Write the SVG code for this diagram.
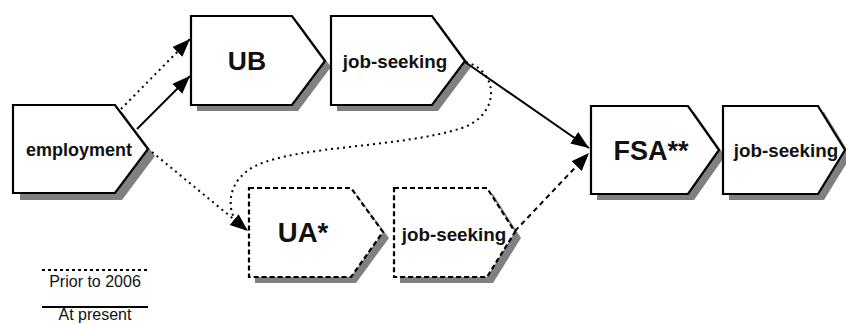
<svg xmlns="http://www.w3.org/2000/svg" width="846" height="324" viewBox="0 0 846 324">
<defs>
<marker id="ah" markerUnits="userSpaceOnUse" markerWidth="20" markerHeight="16" refX="18" refY="7" orient="auto"><path d="M0,0 L18,7 L0,14 z" fill="#000" stroke="none"/></marker>
</defs>
<style>
.shadow{fill:#808080;stroke:none}
.box{fill:#fff;stroke:#000;stroke-width:2.2;stroke-linejoin:miter}
.dbox{fill:#fff;stroke:#000;stroke-width:2.2;stroke-dasharray:5 3}
.t{font-family:"Liberation Sans",Arial,sans-serif;font-weight:bold;fill:#111;text-anchor:middle}
.s{font-size:18.8px}
.leg{font-family:"Liberation Sans",Arial,sans-serif;font-size:16px;fill:#111;text-anchor:middle}
.solid{fill:none;stroke:#000;stroke-width:2}
.dot{fill:none;stroke:#000;stroke-width:2;stroke-dasharray:2 4}
.dash{fill:none;stroke:#000;stroke-width:2;stroke-dasharray:5 4}
</style>
<g id="employment">
<polygon class="shadow" points="20,112 122,112 155,156 122,200 20,200"/>
<polygon class="box" points="13,105 115,105 148,149 115,193 13,193"/>
<text class="t" style="font-size:18px" x="79" y="156">employment</text>
</g>
<g id="ub">
<polygon class="shadow" points="197,22 298,22 331,67 298,111 197,111"/>
<polygon class="box" points="191,16 292,16 325,61 292,105 191,105"/>
<text class="t" style="font-size:26.5px" x="247" y="70">UB</text>
</g>
<g id="js1">
<polygon class="shadow" points="337,22 438,22 471,67 438,111 337,111"/>
<polygon class="box" points="331,16 432,16 465,61 432,105 331,105"/>
<text class="t s" x="395" y="68">job-seeking</text>
</g>
<g id="ua">
<polygon class="shadow" points="255,194 356,194 389,238 356,283 255,283"/>
<polygon class="dbox" points="249,188 351,188 383,232 351,277 249,277"/>
<text class="t" style="font-size:27.5px" x="303" y="242">UA*</text>
</g>
<g id="js2">
<polygon class="shadow" points="400,194 493,194 521,238 493,283 400,283"/>
<polygon class="dbox" points="394,188 487,188 515,232 487,277 394,277"/>
<text class="t s" x="454" y="241">job-seeking</text>
</g>
<g id="fsa">
<polygon class="shadow" points="597,112 694,112 725,156 694,200 597,200"/>
<polygon class="box" points="591,106 688,106 719,150 688,194 591,194"/>
<text class="t" style="font-size:27px" x="651" y="160">FSA**</text>
</g>
<g id="js3">
<polygon class="shadow" points="729,112 824,112 851,156 824,200 729,200"/>
<polygon class="box" points="723,106 818,106 845,150 818,194 723,194"/>
<text class="t s" x="786" y="157">job-seeking</text>
</g>
<g id="connectors">
<line class="dot" x1="121" y1="109" x2="190" y2="39" marker-end="url(#ah)"/>
<line class="solid" x1="137" y1="129" x2="190" y2="76" marker-end="url(#ah)"/>
<line class="solid" x1="465" y1="62" x2="589" y2="148" marker-end="url(#ah)"/>
<line class="dot" x1="152" y1="152" x2="248" y2="231" marker-end="url(#ah)"/>
<path class="dot" d="M466,62 C500,72 500,115 462,128 C400,148 300,145 255,166 C232,178 226,200 234,218"/>
<line class="dash" x1="515" y1="231" x2="589" y2="153" marker-end="url(#ah)"/>
</g>
<g id="legend">
<line x1="42" y1="270" x2="148" y2="270" stroke="#000" stroke-width="2" stroke-dasharray="3 3"/>
<text class="leg" x="95" y="287">Prior to 2006</text>
<line x1="42" y1="307" x2="148" y2="307" stroke="#000" stroke-width="2"/>
<text class="leg" x="95" y="320">At present</text>
</g>
</svg>
